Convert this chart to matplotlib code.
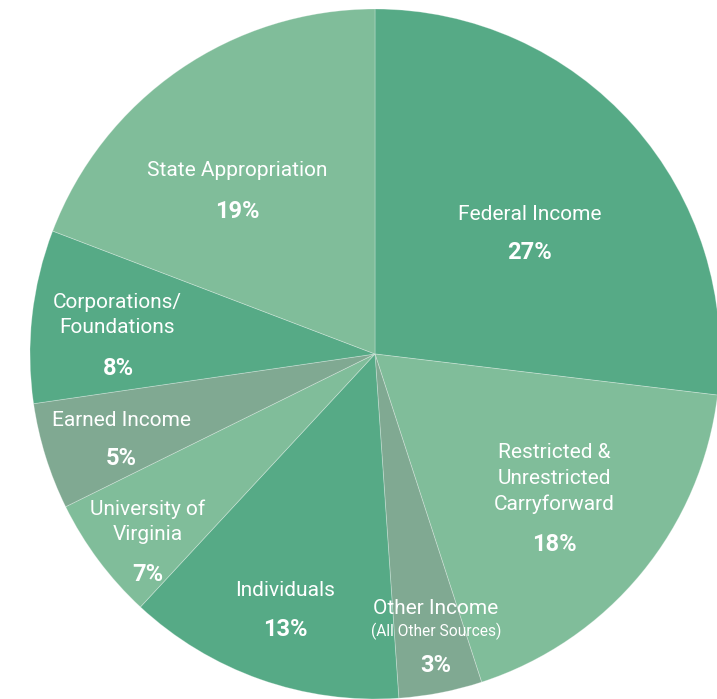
import matplotlib
matplotlib.use("Agg")
import matplotlib.pyplot as plt

categories = ["Federal Income", "Restricted &\nUnrestricted\nCarryforward", "Other Income",
              "Individuals", "University of\nVirginia", "Earned Income",
              "Corporations/\nFoundations", "State Appropriation"]
# wedge sizes (percent of the circle)
values = [26.9, 18.1, 3.9, 13.0, 5.8, 5.0, 8.1, 19.2]
pct_labels = ["27%", "18%", "3%", "13%", "7%", "5%", "8%", "19%"]
sub_labels = ["", "", "(All Other Sources)", "", "", "", "", ""]

DARK = "#56aa86"
LIGHT = "#80bd9a"
GRAY = "#80a992"
colors = [DARK, LIGHT, GRAY, DARK, LIGHT, GRAY, DARK, LIGHT]

# label anchor positions in pixel coords (x, y of first line from top) and percent
name_pos = [(530, 212), (554, 451), (436, 607), (285, 588), (148, 507), (121, 418), (117, 300), (237, 169)]
pct_pos = [(530, 250), (554, 542), (436, 663), (285, 627), (148, 572), (121, 456), (118, 366), (237, 209)]
LINE_STEP = 25.5

W, H = 717, 699
fig = plt.figure(figsize=(W / 100, H / 100), dpi=100)
ax = fig.add_axes([0, 0, 1, 1])

wedges, _ = ax.pie(values, colors=colors, startangle=90, counterclock=False,
                   center=(375, H - 354), radius=345,
                   wedgeprops=dict(edgecolor=(1, 1, 1, 0.3), linewidth=0.6))
ax.set_xlim(0, W)
ax.set_ylim(0, H)
ax.set_aspect("equal")
ax.axis("off")

font = "Roboto"
for i, name in enumerate(categories):
    nx, ny = name_pos[i]
    for k, line in enumerate(name.split("\n")):
        ax.text(nx, H - (ny + k * LINE_STEP), line, ha="center", va="center_baseline",
                color="white", fontsize=15, family=font)
    if sub_labels[i]:
        ax.text(nx, H - ny - 22, sub_labels[i], ha="center", va="center_baseline",
                color="white", fontsize=11.2, family=font)
    px, py = pct_pos[i]
    ax.text(px, H - py, pct_labels[i], ha="center", va="center_baseline", color="white",
            fontsize=17, fontweight="bold", family=font)

fig.savefig("out.png", dpi=100)
